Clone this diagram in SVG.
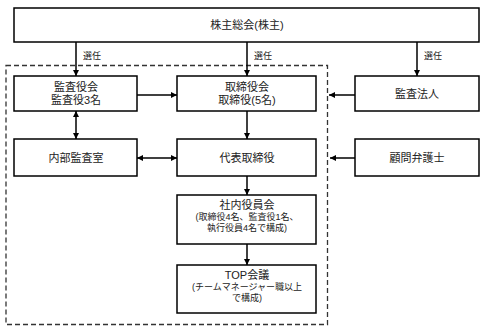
<svg xmlns="http://www.w3.org/2000/svg" width="487" height="334" viewBox="0 0 487 334">
<defs>
<marker id="ah" viewBox="0 0 10 10" refX="10" refY="5" markerWidth="6" markerHeight="6" markerUnits="userSpaceOnUse" orient="auto-start-reverse">
<path d="M0,0 L10,5 L0,10 z" fill="#000"/>
</marker>
<style>
.box{fill:#fff;stroke:#000;stroke-width:1.5}
.t{font-family:"Liberation Sans","Noto Sans CJK JP",sans-serif;font-size:11px;fill:#222;text-anchor:middle}
.s{font-size:9px}
.c{stroke:#000;stroke-width:1.5;fill:none}
</style>
</defs>
<rect width="487" height="334" fill="#fff"/>
<rect x="6" y="65.5" width="321.5" height="259" fill="none" stroke="#333" stroke-width="1.3" stroke-dasharray="5,3"/>
<g id="connectors">
<line class="c" x1="76" y1="42" x2="76" y2="76" marker-end="url(#ah)"/>
<line class="c" x1="247" y1="42" x2="247" y2="76" marker-end="url(#ah)"/>
<line class="c" x1="417" y1="42" x2="417" y2="76" marker-end="url(#ah)"/>
<text class="t s" x="92" y="59">選任</text>
<text class="t s" x="263" y="59">選任</text>
<text class="t s" x="433" y="59">選任</text>
<line class="c" x1="137" y1="95" x2="177" y2="95" marker-end="url(#ah)"/>
<line class="c" x1="355" y1="95" x2="329" y2="95" marker-end="url(#ah)"/>
<line class="c" x1="76" y1="111" x2="76" y2="139" marker-start="url(#ah)" marker-end="url(#ah)"/>
<line class="c" x1="247" y1="111" x2="247" y2="139" marker-end="url(#ah)"/>
<line class="c" x1="137" y1="158" x2="177" y2="158" marker-start="url(#ah)" marker-end="url(#ah)"/>
<line class="c" x1="355" y1="158" x2="330" y2="158" marker-end="url(#ah)"/>
<line class="c" x1="247" y1="176" x2="247" y2="195" marker-end="url(#ah)"/>
<line class="c" x1="247" y1="244" x2="247" y2="265" marker-end="url(#ah)"/>
</g>
<g id="shareholders">
<rect class="box" x="14" y="8" width="465" height="34"/>
<text class="t" x="247" y="29">株主総会(株主)</text>
</g>
<g id="auditboard">
<rect class="box" x="14" y="76" width="123" height="35"/>
<text class="t" x="76" y="91">監査役会</text>
<text class="t" x="76" y="104">監査役3名</text>
</g>
<g id="board">
<rect class="box" x="177" y="76" width="139" height="35"/>
<text class="t" x="247" y="91">取締役会</text>
<text class="t" x="247" y="104">取締役(5名)</text>
</g>
<g id="auditfirm">
<rect class="box" x="355" y="76" width="124" height="35"/>
<text class="t" x="417" y="98">監査法人</text>
</g>
<g id="internalaudit">
<rect class="box" x="14" y="139" width="123" height="37"/>
<text class="t" x="76" y="162">内部監査室</text>
</g>
<g id="ceo">
<rect class="box" x="177" y="139" width="139" height="37"/>
<text class="t" x="247" y="162">代表取締役</text>
</g>
<g id="lawyer">
<rect class="box" x="355" y="139" width="124" height="37"/>
<text class="t" x="417" y="162">顧問弁護士</text>
</g>
<g id="executive">
<rect class="box" x="177" y="195" width="139" height="49"/>
<text class="t" x="247" y="209">社内役員会</text>
<text class="t s" x="247" y="220">(取締役4名、監査役1名、</text>
<text class="t s" x="247" y="231">執行役員4名で構成)</text>
</g>
<g id="top">
<rect class="box" x="177" y="265" width="139" height="48"/>
<text class="t" x="247" y="279">TOP会議</text>
<text class="t s" x="247" y="290">(チームマネージャー職以上</text>
<text class="t s" x="247" y="301">で構成)</text>
</g>
</svg>
